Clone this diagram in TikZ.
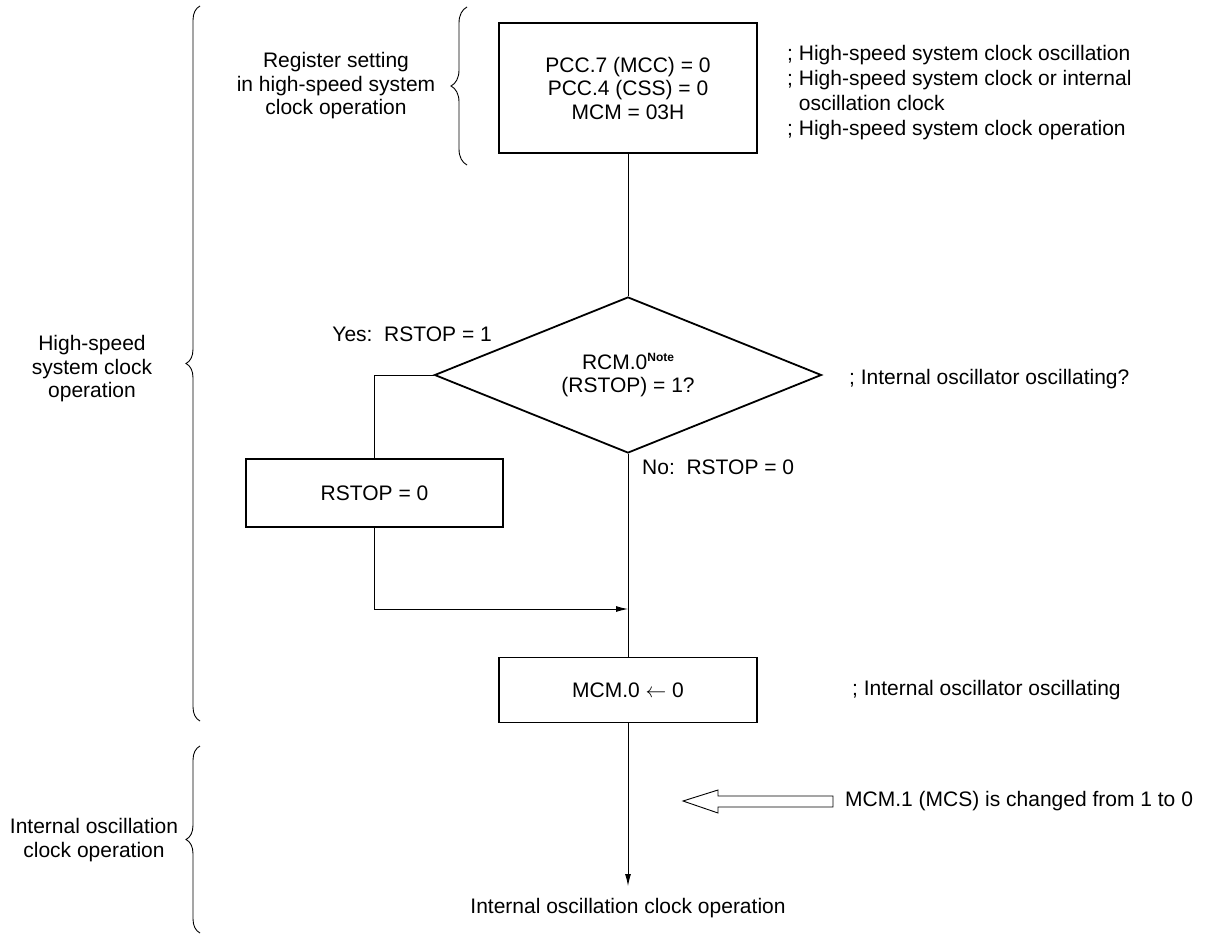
\documentclass[tikz,border=0pt]{standalone}
\usepackage{fontspec}
\setmainfont{Liberation Sans}
\usetikzlibrary{shapes.geometric,decorations.pathreplacing,arrows.meta}
\begin{document}
\begin{tikzpicture}[x=1pt,y=-1pt,
  font=\fontsize{21}{23.5}\selectfont,
  box/.style={draw,line width=1.8pt,minimum width=258pt,align=center,inner sep=0pt},
  line/.style={line width=0.9pt},
  arr/.style={line width=0.9pt,-{Latex[length=12pt,width=6pt]}},
  brc/.style={decorate,decoration={brace,amplitude=14pt},line width=0.9pt},
  txt/.style={inner sep=0pt,align=center},
  ann/.style={inner sep=0pt,anchor=west,align=left}]
\useasboundingbox (0,0) rectangle (1212,936);

% boxes
\node[box,minimum height=130pt] (set) at (628,88) {PCC.7 (MCC) = 0\\PCC.4 (CSS) = 0\\MCM = 03H};
\node[draw,diamond,line width=1.8pt,aspect=2.48,minimum width=387pt,minimum height=156pt,inner sep=0pt,align=center] (dia) at (628,375)
  {RCM.0\raisebox{8pt}{\fontsize{12}{12}\selectfont\bfseries Note}\\(RSTOP) = 1?};
\node[box,minimum width=257pt,minimum height=68pt] (rstop) at (374.5,493) {RSTOP = 0};
\node[box,minimum height=65pt] (mcm) at (628,690) {MCM.0 $\leftarrow$ 0};
\node[txt] (end) at (628,908) {Internal oscillation clock operation};
\coordinate (merge) at (628,609);

% connectors
\draw[line] (set) -- (dia);
\draw[line] (dia.west) -| (rstop.north);
\draw[line] (dia) -- (mcm);
\draw[arr] (rstop.south) |- (merge);
\draw[arr,shorten >=12pt] (mcm) -- (end.north);

% labels
\node[ann,anchor=east] (yes) at (492,334) {Yes:\ \ RSTOP = 1};
\node[ann] (no) at (642,467) {No:\ \ RSTOP = 0};
\node[ann,anchor=north west,font=\fontsize{21}{25}\selectfont] (c1) at (787,45)
  {; High-speed system clock oscillation\\; High-speed system clock or internal\\\hphantom{;\ }oscillation clock\\; High-speed system clock operation};
\node[ann] (c2) at (849,379) {; Internal oscillator oscillating?};
\node[ann] (c3) at (852,690) {; Internal oscillator oscillating};
\node[ann] (c4) at (845,801) {MCM.1 (MCS) is changed from 1 to 0};

% hollow arrow
\draw[line width=0.9pt] (683,801) -- (718,790) -- (718,796) -- (833,796) -- (833,807) -- (718,807) -- (718,813) -- cycle;

% braces
\draw[brc] (200,721) -- (200,6);
\draw[brc] (200,933) -- (200,746);
\draw[brc,decoration={brace,amplitude=16pt}] (467,165) -- (467,7);

% brace texts
\node[txt] (reg) at (336,86) {Register setting\\in high-speed system\\clock operation};
\node[txt] (hs) at (92,369) {High-speed\\system clock\\operation};
\node[txt] (io) at (94,840) {Internal oscillation\\clock operation};
\end{tikzpicture}
\end{document}
